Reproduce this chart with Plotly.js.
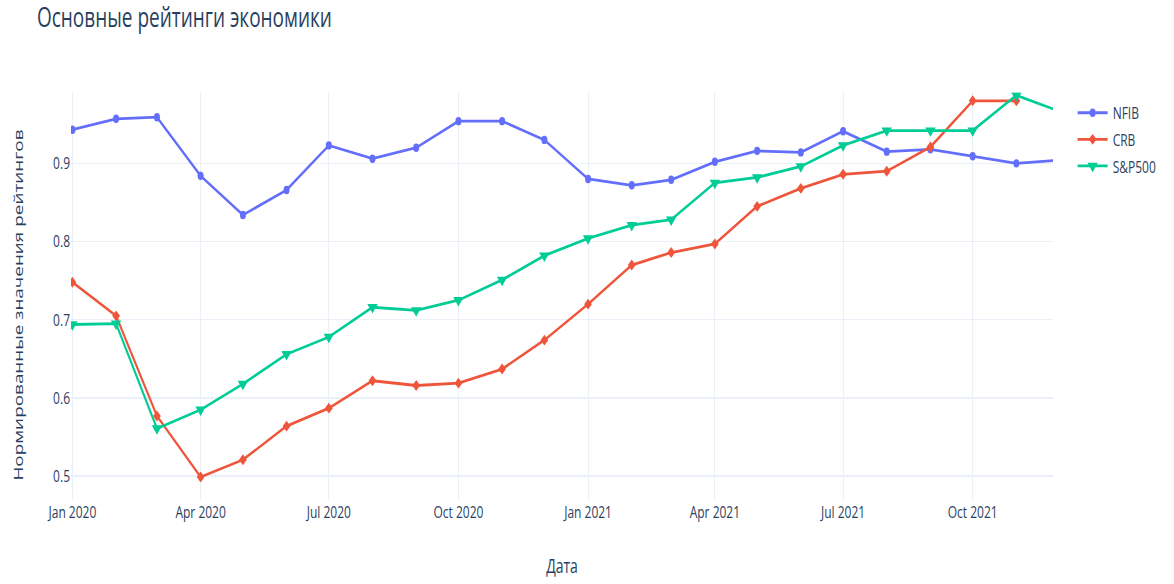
<!DOCTYPE html>
<html>
<head>
<meta charset="utf-8">
<script src="https://cdn.plot.ly/plotly-3.0.1.min.js"></script>
<style>
  html, body { margin: 0; padding: 0; background: #ffffff; }
  body { width: 1174px; height: 584px; position: relative; }
  #chart { position: absolute; left: 0; top: 0; width: 1174px; height: 417px; transform: scaleY(1.4005); transform-origin: 0 0; }
</style>
</head>
<body>
<div id="chart"></div>
<script>
// Monthly dates, Jan 2020 – Dec 2021
const dates = [
  '2020-01-01','2020-02-01','2020-03-01','2020-04-01','2020-05-01','2020-06-01',
  '2020-07-01','2020-08-01','2020-09-01','2020-10-01','2020-11-01','2020-12-01',
  '2021-01-01','2021-02-01','2021-03-01','2021-04-01','2021-05-01','2021-06-01',
  '2021-07-01','2021-08-01','2021-09-01','2021-10-01','2021-11-01','2021-12-01'
];

const nfib = [0.943, 0.957, 0.959, 0.884, 0.834, 0.866, 0.923, 0.906, 0.920, 0.954, 0.954, 0.930,
              0.880, 0.872, 0.879, 0.902, 0.916, 0.914, 0.941, 0.915, 0.918, 0.909, 0.900, 0.904];

const crb  = [0.748, 0.705, 0.577, 0.499, 0.521, 0.564, 0.587, 0.622, 0.616, 0.619, 0.637, 0.674,
              0.720, 0.770, 0.786, 0.797, 0.845, 0.868, 0.886, 0.890, 0.921, 0.980, 0.980];

const sp500 = [0.694, 0.695, 0.561, 0.585, 0.618, 0.656, 0.678, 0.716, 0.712, 0.725, 0.751, 0.782,
               0.804, 0.821, 0.828, 0.875, 0.882, 0.896, 0.923, 0.942, 0.942, 0.942, 0.987, 0.967];

const seriesNames = ['NFIB', 'CRB', 'S&P500'];
const yTicks = [0.5, 0.6, 0.7, 0.8, 0.9];

const fontFam = '"Open Sans", verdana, arial, sans-serif';
const txtColor = '#2a3f5f';
const grid = '#EBF0F8';

const traces = [
  { x: dates, y: nfib, name: seriesNames[0], mode: 'lines+markers', type: 'scatter',
    line: { color: '#636efa', width: 2 }, marker: { symbol: 'circle', size: 6, color: '#636efa' } },
  { x: dates.slice(0, crb.length), y: crb, name: seriesNames[1], mode: 'lines+markers', type: 'scatter',
    line: { color: '#EF553B', width: 2 }, marker: { symbol: 'diamond', size: 6, color: '#EF553B' } },
  { x: dates, y: sp500, name: seriesNames[2], mode: 'lines+markers', type: 'scatter',
    line: { color: '#00cc96', width: 2 }, marker: { symbol: 'triangle-down', size: 9, color: '#00cc96' } }
];

const layout = {
  width: 1174, height: 417,
  paper_bgcolor: '#ffffff', plot_bgcolor: '#ffffff',
  font: { family: fontFam, color: txtColor, size: 12 },
  margin: { l: 71, r: 121, t: 66, b: 60 },
  title: { text: 'Основные рейтинги экономики', x: 0.0315, xanchor: 'left', xref: 'container',
           y: 0.969, yanchor: 'middle', yref: 'container', font: { size: 19, color: txtColor } },
  xaxis: {
    type: 'date', range: ['2019-12-31', '2021-11-27'],
    dtick: 'M3', tick0: '2020-01-01', tickformat: '%b %Y',
    gridcolor: grid, zeroline: false, showline: false, ticks: '',
    title: { text: 'Дата', font: { size: 14 } }
  },
  yaxis: {
    range: [0.4696, 0.9907], tickvals: yTicks, ticktext: yTicks.map(v => v.toFixed(1)),
    gridcolor: grid, zeroline: false, showline: false, ticks: ''
  },
  annotations: [{
    text: 'Нормированные значения рейтингов', textangle: -90,
    xref: 'paper', yref: 'paper', x: -0.054, y: 0.48, xanchor: 'center', yanchor: 'middle',
    showarrow: false, font: { size: 13.5, color: txtColor }
  }],
  legend: { x: 1.02, y: 1, xanchor: 'left', yanchor: 'top', font: { size: 12 } },
  showlegend: true
};

Plotly.newPlot('chart', traces, layout, { displayModeBar: false, responsive: false });
</script>
</body>
</html>
